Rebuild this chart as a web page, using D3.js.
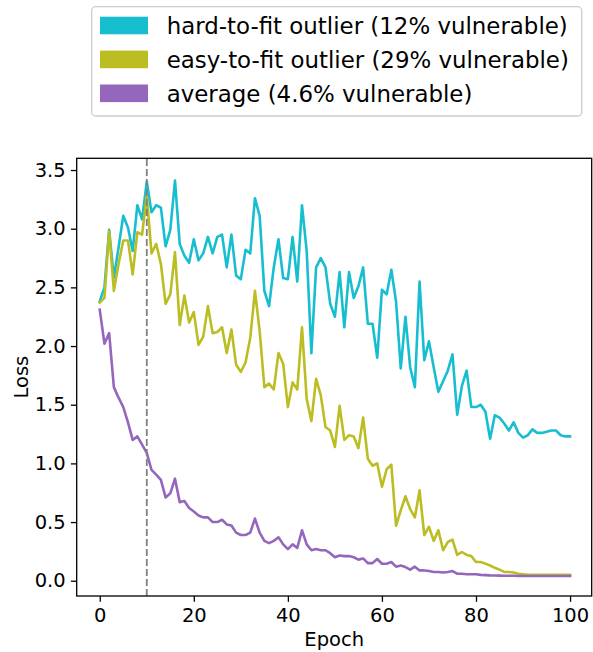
<!DOCTYPE html>
<html>
<head>
<meta charset="utf-8">
<script src="https://cdn.jsdelivr.net/npm/d3@7"></script>
<style>
  body { margin: 0; background: #fff; }
  svg { display: block; font-family: "DejaVu Sans", sans-serif; }
</style>
</head>
<body>
<div id="chart"></div>
<script>
// loss curves per epoch
const epochs = d3.range(0, 101);

const hardLoss = [
  2.38, 2.50, 2.99, 2.58, 2.84, 3.11, 3.01, 2.81, 3.20, 3.08,
  3.40, 3.14, 3.20, 3.18, 2.85, 2.99, 3.41, 2.87, 2.77, 2.71,
  2.91, 2.73, 2.79, 2.93, 2.79, 2.93, 2.95, 2.67, 2.95, 2.60,
  2.57, 2.82, 2.79, 3.26, 3.11, 2.47, 2.34, 2.67, 2.91, 2.58,
  2.57, 2.93, 2.55, 3.20, 2.81, 1.94, 2.67, 2.75, 2.67, 2.36,
  2.25, 2.63, 2.16, 2.63, 2.41, 2.51, 2.67, 2.19, 2.19, 1.90,
  2.48, 2.44, 2.65, 2.38, 1.81, 2.25, 1.82, 1.65, 2.55, 1.88,
  2.04, 1.82, 1.61, 1.70, 1.79, 1.93, 1.415, 1.66, 1.79, 1.48,
  1.48, 1.50, 1.44, 1.21, 1.41, 1.39, 1.34, 1.28, 1.35, 1.26,
  1.22, 1.24, 1.29, 1.26, 1.26, 1.27, 1.28, 1.28, 1.24, 1.23,
  1.23
];

const easyLoss = [
  2.37, 2.41, 2.98, 2.47, 2.70, 2.90, 2.90, 2.61, 2.97, 2.95,
  3.28, 2.79, 2.87, 2.70, 2.36, 2.44, 2.80, 2.18, 2.43, 2.20,
  2.29, 2.01, 2.08, 2.34, 2.11, 2.12, 2.16, 1.94, 2.14, 1.84,
  1.78, 1.86, 2.07, 2.47, 2.13, 1.65, 1.68, 1.63, 1.94, 1.85,
  1.48, 1.69, 1.63, 2.16, 1.55, 1.36, 1.72, 1.58, 1.31, 1.28,
  1.14, 1.49, 1.20, 1.24, 1.23, 1.13, 1.39, 1.04, 0.98, 1.00,
  0.80, 0.95, 0.99, 0.47, 0.60, 0.72, 0.61, 0.54, 0.77, 0.39,
  0.46, 0.34, 0.43, 0.26, 0.33, 0.35, 0.22, 0.245, 0.22, 0.21,
  0.16, 0.16, 0.146, 0.13, 0.11, 0.095, 0.075, 0.075, 0.07, 0.06,
  0.055, 0.05, 0.05, 0.05, 0.05, 0.05, 0.05, 0.05, 0.05, 0.05,
  0.05
];

const avgLoss = [
  2.31, 2.02, 2.11, 1.65, 1.56, 1.48, 1.35, 1.20, 1.23, 1.16,
  1.09, 0.945, 0.905, 0.86, 0.71, 0.745, 0.87, 0.67, 0.68, 0.62,
  0.59, 0.556, 0.54, 0.54, 0.50, 0.50, 0.52, 0.48, 0.47, 0.41,
  0.39, 0.39, 0.41, 0.53, 0.41, 0.34, 0.32, 0.34, 0.37, 0.31,
  0.27, 0.31, 0.28, 0.43, 0.31, 0.26, 0.27, 0.26, 0.26, 0.235,
  0.20, 0.215, 0.21, 0.21, 0.20, 0.18, 0.19, 0.15, 0.15, 0.185,
  0.145, 0.145, 0.16, 0.12, 0.13, 0.117, 0.094, 0.12, 0.088, 0.088,
  0.083, 0.075, 0.075, 0.07, 0.075, 0.083, 0.06, 0.06, 0.055, 0.055,
  0.055, 0.05, 0.048, 0.046, 0.045, 0.044, 0.043, 0.042, 0.042, 0.041,
  0.041, 0.04, 0.04, 0.04, 0.04, 0.04, 0.04, 0.04, 0.04, 0.04,
  0.04
];

const seriesLabels = [
  "hard-to-fit outlier (12% vulnerable)",
  "easy-to-fit outlier (29% vulnerable)",
  "average (4.6% vulnerable)"
];
const seriesColors = ["#17becf", "#bcbd22", "#9467bd"];
const markerEpoch = 10;

const xTicks = [0, 20, 40, 60, 80, 100];
const yTicks = [0.0, 0.5, 1.0, 1.5, 2.0, 2.5, 3.0, 3.5];

// ---------------------------------------------------------------------------
// layout
// ---------------------------------------------------------------------------

const width = 593, height = 652;
const plot = { left: 76.7, right: 591.7, top: 158.3, bottom: 596 };
const tickFont = "19.5px";

const svg = d3.select("#chart").append("svg")
    .attr("width", width)
    .attr("height", height);

const x = d3.scaleLinear().domain([-4.9, 104.6]).range([plot.left, plot.right]);
const y = d3.scaleLinear().domain([-0.13, 3.60]).range([plot.bottom, plot.top]);

// ---------------------------------------------------------------------------
// axes
// ---------------------------------------------------------------------------

const xAxis = svg.append("g")
    .attr("transform", `translate(0,${plot.bottom})`)
    .call(d3.axisBottom(x).tickValues(xTicks).tickFormat(d3.format("d"))
        .tickSize(5.8).tickSizeOuter(0).tickPadding(6.8));
xAxis.select(".domain").remove();
xAxis.selectAll("line").attr("stroke", "#000").attr("stroke-width", 1.3);
xAxis.selectAll("text").attr("font-size", tickFont).attr("fill", "#000")
    .attr("font-family", "DejaVu Sans");

const yAxis = svg.append("g")
    .attr("transform", `translate(${plot.left},0)`)
    .call(d3.axisLeft(y).tickValues(yTicks).tickFormat(d3.format(".1f"))
        .tickSize(5.8).tickSizeOuter(0).tickPadding(5.2));
yAxis.select(".domain").remove();
yAxis.selectAll("line").attr("stroke", "#000").attr("stroke-width", 1.3);
yAxis.selectAll("text").attr("font-size", tickFont).attr("fill", "#000")
    .attr("font-family", "DejaVu Sans");

svg.append("text")
    .attr("x", (plot.left + plot.right) / 2)
    .attr("y", 646)
    .attr("text-anchor", "middle")
    .attr("font-size", tickFont)
    .text("Epoch");

svg.append("text")
    .attr("transform", `translate(28,${(plot.top + plot.bottom) / 2}) rotate(-90)`)
    .attr("text-anchor", "middle")
    .attr("font-size", tickFont)
    .text("Loss");

// ---------------------------------------------------------------------------
// lines
// ---------------------------------------------------------------------------

svg.append("defs").append("clipPath").attr("id", "clip")
    .append("rect")
    .attr("x", plot.left).attr("y", plot.top)
    .attr("width", plot.right - plot.left).attr("height", plot.bottom - plot.top);

const lineGen = d3.line()
    .x((d, i) => x(epochs[i]))
    .y(d => y(d));

const series = [hardLoss, easyLoss, avgLoss];
const g = svg.append("g").attr("clip-path", "url(#clip)");

g.selectAll("path.loss")
    .data(series)
    .join("path")
    .attr("class", "loss")
    .attr("d", lineGen)
    .attr("fill", "none")
    .attr("stroke", (d, i) => seriesColors[i])
    .attr("stroke-width", 2.6)
    .attr("stroke-linejoin", "round")
    .attr("stroke-linecap", "square");

// vertical marker at epoch 10
g.append("line")
    .attr("x1", x(markerEpoch)).attr("x2", x(markerEpoch))
    .attr("y1", plot.bottom).attr("y2", plot.top)
    .attr("stroke", "#808080")
    .attr("stroke-width", 1.8)
    .attr("stroke-dasharray", "7,3");

// frame
svg.append("rect")
    .attr("x", plot.left).attr("y", plot.top)
    .attr("width", plot.right - plot.left).attr("height", plot.bottom - plot.top)
    .attr("fill", "none")
    .attr("stroke", "#000")
    .attr("stroke-width", 1.3);

// ---------------------------------------------------------------------------
// legend
// ---------------------------------------------------------------------------

const legend = svg.append("g");
legend.append("rect")
    .attr("x", 91.7).attr("y", 6.7)
    .attr("width", 490).attr("height", 109.3)
    .attr("rx", 4)
    .attr("fill", "#fff").attr("fill-opacity", 0.8)
    .attr("stroke", "#cccccc").attr("stroke-width", 1.3);

const rowY = d3.scalePoint().domain(seriesLabels).range([25.5, 93.3]);

const rows = legend.selectAll("g.row")
    .data(seriesLabels)
    .join("g")
    .attr("class", "row")
    .attr("transform", d => `translate(0,${rowY(d)})`);

rows.append("rect")
    .attr("x", 100).attr("y", -8.8)
    .attr("width", 48).attr("height", 17.6)
    .attr("fill", (d, i) => seriesColors[i]);

rows.append("text")
    .attr("x", 166.7).attr("y", 8.4)
    .attr("font-size", "22.9px")
    .attr("fill", "#000")
    .text(d => d);
</script>
</body>
</html>
